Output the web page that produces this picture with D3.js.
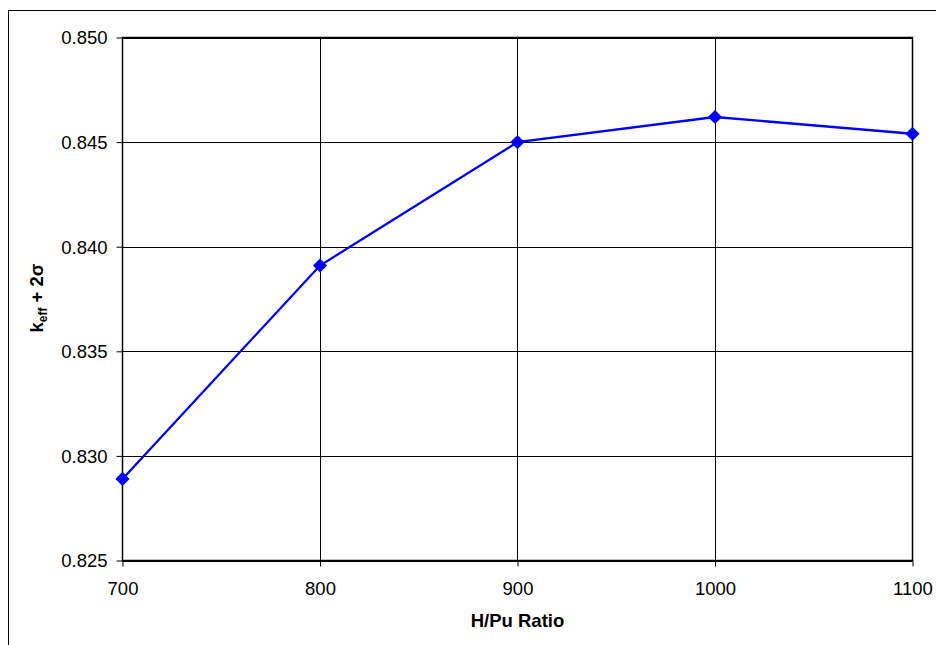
<!DOCTYPE html>
<html><head><meta charset="utf-8">
<script src="https://cdn.jsdelivr.net/npm/d3@7"></script>
<style>body{margin:0;background:#fff}svg{display:block}text{font-family:"Liberation Sans",Arial,sans-serif}</style>
</head><body><svg id="c" width="936" height="645"></svg>
<script>
const ratios = [700, 800, 900, 1000, 1100];
const keff = [0.8289, 0.8391, 0.8450, 0.8462, 0.8454];
const xTicks = [700, 800, 900, 1000, 1100];
const yTicks = [0.825, 0.830, 0.835, 0.840, 0.845, 0.850];

const svg = d3.select("#c");
const L = 122.5, R = 912.5, T = 37.5, B = 560.5;
const x = d3.scaleLinear().domain([700, 1100]).range([L, R]);
const y = d3.scaleLinear().domain([0.825, 0.850]).range([B, T]);

svg.append("rect").attr("x", 8.5).attr("y", 10.5).attr("width", 960).attr("height", 660)
  .attr("fill", "#fff").attr("stroke", "#000").attr("stroke-width", 1);

// gridlines
svg.append("g").selectAll("line").data(yTicks).join("line")
  .attr("x1", L).attr("x2", R).attr("y1", d => Math.round(y(d)) + 0.5).attr("y2", d => Math.round(y(d)) + 0.5)
  .attr("stroke", "#000").attr("stroke-width", 1);
svg.append("g").selectAll("line").data(xTicks).join("line")
  .attr("y1", T).attr("y2", B).attr("x1", d => Math.round(x(d) - 0.5) + 0.5).attr("x2", d => Math.round(x(d) - 0.5) + 0.5)
  .attr("stroke", "#000").attr("stroke-width", 1);

svg.append("rect").attr("x", L).attr("y", T).attr("width", R - L).attr("height", B - T)
  .attr("fill", "none").attr("stroke", "#000").attr("stroke-width", 1.5);

// axes
const yAxis = d3.axisLeft(y).tickValues(yTicks).tickFormat(d3.format(".3f")).tickSizeInner(6).tickSizeOuter(0).tickPadding(9);
const gy = svg.append("g").attr("transform", `translate(${L},0)`).call(yAxis);
const xAxis = d3.axisBottom(x).tickValues(xTicks).tickFormat(d3.format("d")).tickSizeInner(6).tickSizeOuter(0).tickPadding(13);
const gx = svg.append("g").attr("transform", `translate(0,${B})`).call(xAxis);
[gx, gy].forEach(g => {
  g.select(".domain").remove();
  g.selectAll("line").attr("stroke", "#000");
  g.selectAll("text").attr("font-size", 18.5).attr("fill", "#000").style("font-family", '"Liberation Sans",Arial,sans-serif');
});
gy.selectAll("text").attr("dy", "0.35em");
gx.selectAll("text").attr("dy", "0.85em");

// axis titles
svg.append("text").attr("x", (L + R) / 2).attr("y", 627).attr("text-anchor", "middle")
  .attr("font-size", 18.5).attr("font-weight", "bold").text("H/Pu Ratio");
const yt = svg.append("text").attr("transform", "translate(43,298) rotate(-90)").attr("text-anchor", "middle")
  .attr("font-size", 18.5).attr("font-weight", "bold");
yt.append("tspan").text("k");
yt.append("tspan").attr("font-size", 12).attr("dy", 4).text("eff");
yt.append("tspan").attr("dy", -4).text(" + 2σ");

// line + markers
const pts = ratios.map((r, i) => [r, keff[i]]);
svg.append("path").datum(pts)
  .attr("d", d3.line().x(d => x(d[0])).y(d => y(d[1])))
  .attr("fill", "none").attr("stroke", "#0000FF").attr("stroke-width", 2.3);
svg.append("g").selectAll("path").data(pts).join("path")
  .attr("transform", d => `translate(${x(d[0])},${y(d[1])}) rotate(45)`)
  .attr("d", "M-5,-5H5V5H-5Z").attr("fill", "#0000FF");
</script></body></html>
